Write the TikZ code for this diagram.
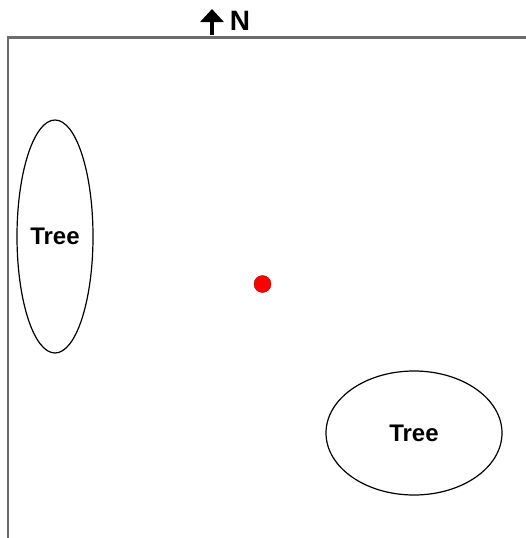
\documentclass[tikz,border=0pt]{standalone}
\usepackage{fontspec}
\setmainfont{Liberation Sans}
\usetikzlibrary{shapes.geometric, arrows.meta, positioning}

\begin{document}
\begin{tikzpicture}[
    x=1pt, y=-1pt,
    tree/.style={ellipse, draw, line width=1.2pt, inner sep=0pt, font=\fontsize{24}{27}\selectfont\bfseries},
    frame/.style={draw=gray!85!black, line width=2.5pt},
    spot/.style={circle, fill=red, draw=red!70!black, line width=0.4pt, minimum size=17pt, inner sep=0pt},
    pointer/.style={line width=4.5pt, -{Triangle[width=23pt,length=13pt]}}
]
\useasboundingbox (0,0) rectangle (526,538);
% plot border, only top and left edges show
\draw[frame] (8,545) -- (8,37.5) -- (535,37.5);

\node[tree, minimum width=76pt, minimum height=233pt] (T1) at (55,236.5) {Tree};
\node[tree, minimum width=176pt, minimum height=124pt] (T2) at (414,433) {Tree};
\node[spot] (P) at (262.5,284) {};

% north marker
\node[font=\fontsize{28}{30}\selectfont\bfseries] (N) at (240,21) {N};
\coordinate (A0) at (212,35);
\coordinate (A1) at (212,9);
\draw[pointer] (A0) -- (A1);
\end{tikzpicture}
\end{document}
